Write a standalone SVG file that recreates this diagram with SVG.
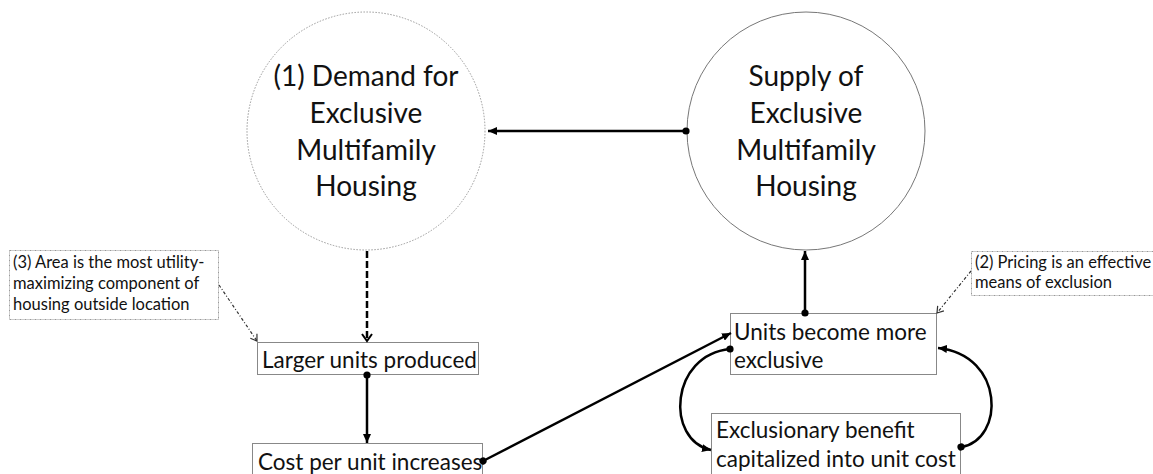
<svg xmlns="http://www.w3.org/2000/svg" width="1153" height="474" viewBox="0 0 1153 474">
<style>
  .big { font-family: Lato, "Liberation Sans", sans-serif; font-size: 28px; fill: #111; text-anchor: middle; }
  .box { font-family: Lato, "Liberation Sans", sans-serif; font-size: 22.5px; fill: #111; }
  .note { font-family: Lato, "Liberation Sans", sans-serif; font-size: 16.5px; fill: #111; }
  .rect { fill: #fff; stroke: #888; stroke-width: 1; }
  .nrect { fill: #fff; stroke: #999; stroke-width: 1; stroke-dasharray: 2 1 1 1; }
  .conn { fill: none; stroke: #000; stroke-width: 2.5; }
  .thin { fill: none; stroke: #333; stroke-width: 1.2; stroke-dasharray: 3 2 1 2; }
</style>
<defs>
  <marker id="arrow" markerUnits="userSpaceOnUse" markerWidth="10" markerHeight="8" refX="9" refY="4" orient="auto">
    <path d="M0,0 L9,4 L0,8 z" fill="#000"/>
  </marker>
  <marker id="dot" markerUnits="userSpaceOnUse" markerWidth="8" markerHeight="8" refX="4" refY="4" orient="auto">
    <circle cx="4" cy="4" r="3.6" fill="#000"/>
  </marker>
  <marker id="open" markerUnits="userSpaceOnUse" markerWidth="12" markerHeight="12" refX="8" refY="6" orient="auto">
    <path d="M1,1 L8,6 L1,11" fill="none" stroke="#000" stroke-width="2"/>
  </marker>
  <marker id="openthin" markerUnits="userSpaceOnUse" markerWidth="10" markerHeight="10" refX="7" refY="5" orient="auto">
    <path d="M1,1 L7,5 L1,9" fill="none" stroke="#333" stroke-width="1.2"/>
  </marker>
</defs>
<rect width="1153" height="474" fill="#fff"/>

<g id="demand">
  <circle cx="366" cy="131" r="119" fill="#fff" stroke="#999" stroke-width="1" stroke-dasharray="1.5 1.5"/>
  <text class="big" x="366" y="86">(1) Demand for</text>
  <text class="big" x="366" y="123">Exclusive</text>
  <text class="big" x="366" y="160">Multifamily</text>
  <text class="big" x="366" y="196">Housing</text>
</g>

<g id="supply">
  <circle cx="806" cy="131" r="119" fill="#fff" stroke="#777" stroke-width="1"/>
  <text class="big" x="806" y="86">Supply of</text>
  <text class="big" x="806" y="123">Exclusive</text>
  <text class="big" x="806" y="160">Multifamily</text>
  <text class="big" x="806" y="196">Housing</text>
</g>

<g id="larger">
  <rect class="rect" x="257.5" y="342.5" width="221" height="32"/>
  <text class="box" x="262" y="368">Larger units produced</text>
</g>

<g id="cost">
  <rect class="rect" x="252.5" y="443.5" width="230" height="40"/>
  <text class="box" x="258" y="470">Cost per unit increases</text>
</g>

<g id="units">
  <rect class="rect" x="730.5" y="313.5" width="206" height="61"/>
  <text class="box" x="734" y="340">Units become more</text>
  <text class="box" x="734" y="368">exclusive</text>
</g>

<g id="exclusionary">
  <rect class="rect" x="711.5" y="413.5" width="249" height="70"/>
  <text class="box" x="716" y="438">Exclusionary benefit</text>
  <text class="box" x="716" y="467">capitalized into unit cost</text>
</g>

<g id="note3">
  <rect class="nrect" x="9.5" y="250.5" width="209" height="69"/>
  <text class="note" x="13" y="268">(3) Area is the most utility-</text>
  <text class="note" x="13" y="289">maximizing component of</text>
  <text class="note" x="13" y="310">housing outside location</text>
</g>

<g id="note2">
  <rect class="nrect" x="971.5" y="251.5" width="190" height="44"/>
  <text class="note" x="975" y="268">(2) Pricing is an effective</text>
  <text class="note" x="975" y="288">means of exclusion</text>
</g>

<g id="connectors">
  <line class="conn" x1="686" y1="131" x2="488" y2="131" marker-start="url(#dot)" marker-end="url(#arrow)"/>
  <line class="conn" x1="367" y1="251" x2="367" y2="341" stroke-dasharray="7 3" stroke-width="3" marker-end="url(#open)"/>
  <line class="conn" x1="367" y1="375" x2="367" y2="443" marker-start="url(#dot)" marker-end="url(#arrow)"/>
  <line class="conn" x1="483" y1="461" x2="731" y2="333" marker-start="url(#dot)" marker-end="url(#arrow)"/>
  <line class="conn" x1="805" y1="313" x2="805" y2="251" marker-start="url(#dot)" marker-end="url(#arrow)"/>
  <path class="conn" d="M730,349 C670,355 665,440 711,450" marker-start="url(#dot)" marker-end="url(#arrow)"/>
  <path class="conn" d="M961,447 C1005,440 1005,355 938,348" marker-start="url(#dot)" marker-end="url(#arrow)"/>
  <line class="thin" x1="219" y1="285" x2="257" y2="341" marker-end="url(#openthin)"/>
  <line class="thin" x1="971" y1="271" x2="937" y2="313" marker-end="url(#openthin)"/>
</g>
</svg>
